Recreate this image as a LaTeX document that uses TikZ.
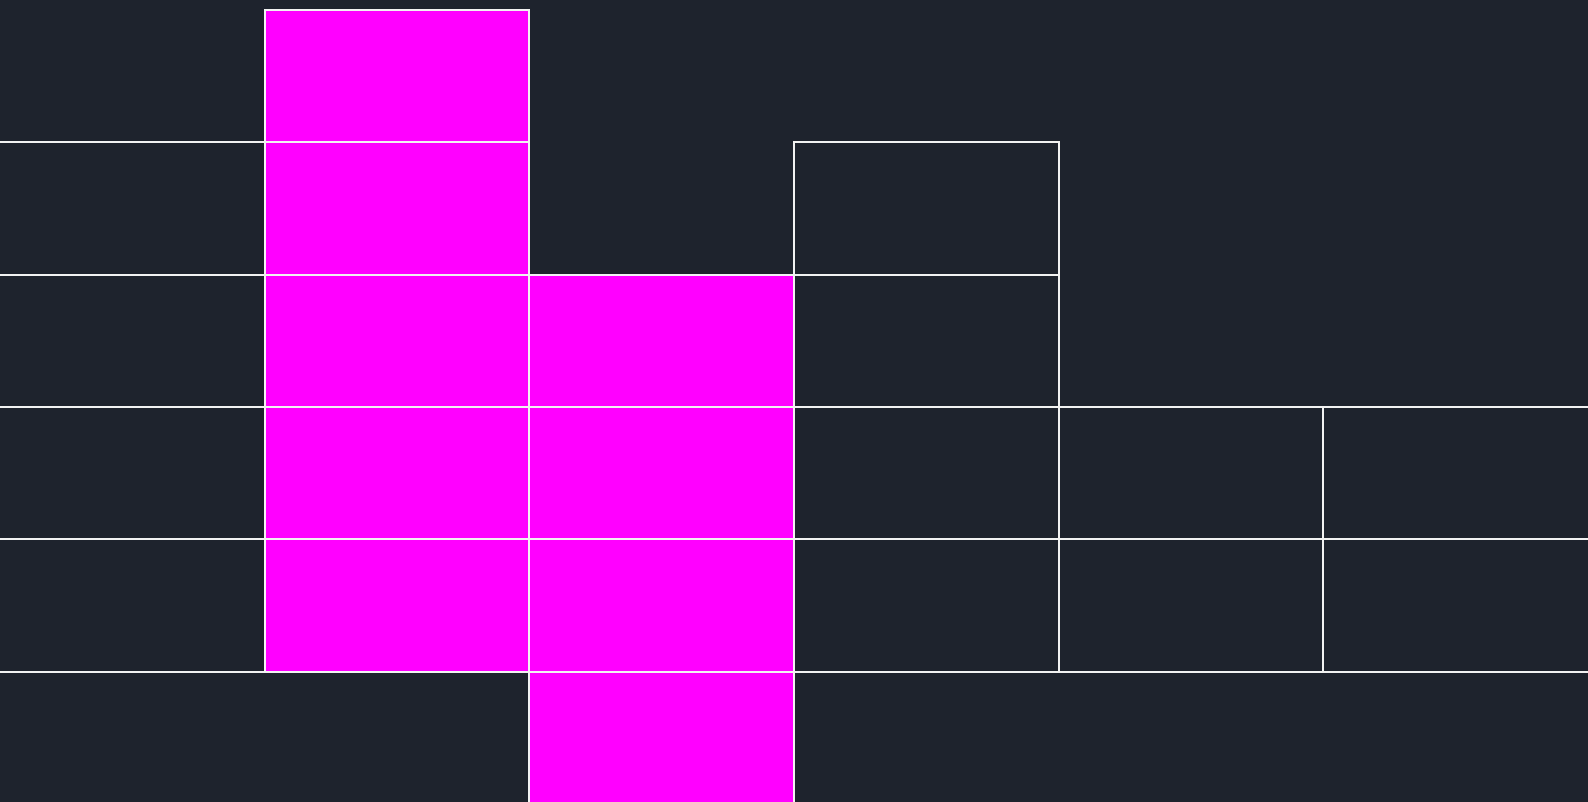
\documentclass[tikz,border=0pt]{standalone}
\definecolor{bg}{HTML}{1E232D}
\definecolor{mag}{HTML}{FF00FF}
\definecolor{edge}{HTML}{F2F2F2}
\begin{document}
\begin{tikzpicture}[x=1pt,y=-1pt,
  cell/.style={rectangle,draw=edge,line width=2pt,inner sep=0pt,outer sep=0pt,
    minimum width=264.667pt,minimum height=132.333pt,anchor=north west},
  darkcell/.style={cell,fill=bg},
  magcell/.style={cell,fill=mag}]
\fill[bg] (0,0) rectangle (1588,802);
\useasboundingbox (0,0) rectangle (1588,802);
\clip (0,0) rectangle (1588,802);
\def\W{264.667}
\def\H{132.333}
% column 0 (extends left beyond the frame)
\foreach \r in {1,2,3,4}{
  \node[darkcell,minimum width=284.667pt] (a\r) at (-20,{10+\H*\r}) {};
}
% column 1 magenta
\foreach \r in {0,1,2,3,4}{
  \node[magcell] (b\r) at (\W,{10+\H*\r}) {};
}
% column 2 magenta
\foreach \r in {2,3,4,5}{
  \node[magcell] (c\r) at ({2*\W},{10+\H*\r}) {};
}
% column 3
\foreach \r in {1,2,3,4}{
  \node[darkcell] (d\r) at ({3*\W},{10+\H*\r}) {};
}
% column 4
\foreach \r in {3,4}{
  \node[darkcell] (e\r) at ({4*\W},{10+\H*\r}) {};
}
% column 5 (extends right beyond the frame)
\foreach \r in {3,4}{
  \node[darkcell,minimum width=284.667pt] (f\r) at ({5*\W},{10+\H*\r}) {};
}
\end{tikzpicture}
\end{document}
